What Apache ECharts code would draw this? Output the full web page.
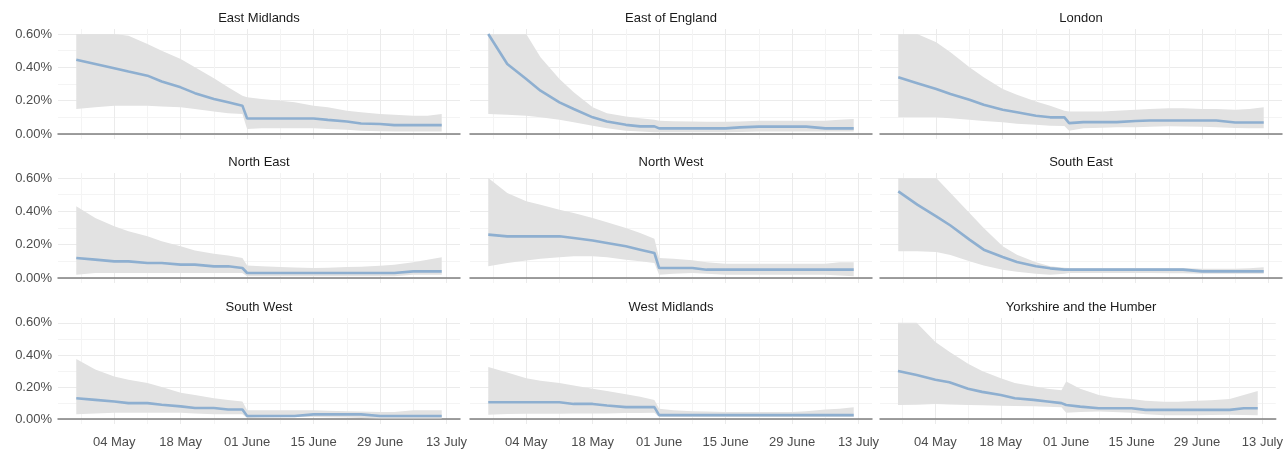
<!DOCTYPE html>
<html>
<head>
<meta charset="utf-8">
<script src="https://cdn.jsdelivr.net/npm/echarts@6/dist/echarts.min.js"></script>
<style>
  html, body { margin: 0; padding: 0; background: #ffffff; }
  #chart { width: 1286px; height: 449px; }
</style>
</head>
<body>
<div id="chart"></div>
<script>
// Sample dates shared by every region (2020)
const dates = ['2020-04-26','2020-04-30','2020-05-04','2020-05-07','2020-05-11','2020-05-14',
  '2020-05-18','2020-05-21','2020-05-25','2020-05-28','2020-05-31','2020-06-01',
  '2020-06-04','2020-06-08','2020-06-11','2020-06-15','2020-06-18','2020-06-22',
  '2020-06-25','2020-06-29','2020-07-02','2020-07-06','2020-07-09','2020-07-12'];

const regions = ['East Midlands','East of England','London','North East','North West',
  'South East','South West','West Midlands','Yorkshire and the Humber'];

// Estimated positivity (%) and credible interval bounds, one array per region
const eastMidlandsMid = [0.445,0.42,0.395,0.375,0.35,0.315,0.28,0.245,0.21,0.19,0.17,0.093,0.093,0.093,0.093,0.093,0.085,0.075,0.063,0.06,0.053,0.053,0.053,0.053];
const eastMidlandsLow = [0.15,0.16,0.17,0.17,0.17,0.165,0.16,0.15,0.135,0.125,0.12,0.03,0.035,0.035,0.035,0.034,0.03,0.025,0.02,0.016,0.015,0.015,0.015,0.015];
const eastMidlandsHigh = [0.6,0.6,0.6,0.59,0.54,0.5,0.45,0.4,0.335,0.28,0.23,0.22,0.21,0.2,0.19,0.17,0.16,0.14,0.13,0.12,0.115,0.11,0.11,0.12];

const eastEnglandMid = [0.6,0.42,0.33,0.26,0.19,0.15,0.1,0.075,0.055,0.046,0.046,0.034,0.034,0.034,0.034,0.034,0.04,0.044,0.044,0.044,0.044,0.034,0.034,0.034];
const eastEnglandLow = [0.12,0.115,0.11,0.1,0.085,0.07,0.05,0.035,0.02,0.015,0.01,0.01,0.01,0.01,0.01,0.01,0.012,0.015,0.015,0.015,0.015,0.015,0.015,0.015];
const eastEnglandHigh = [0.6,0.6,0.6,0.46,0.33,0.25,0.16,0.125,0.105,0.095,0.085,0.08,0.077,0.075,0.074,0.073,0.075,0.079,0.079,0.079,0.08,0.08,0.085,0.09];

const londonMid = [0.34,0.305,0.27,0.24,0.205,0.175,0.145,0.13,0.11,0.1,0.1,0.065,0.071,0.071,0.071,0.078,0.081,0.081,0.081,0.081,0.081,0.069,0.069,0.069];
const londonLow = [0.1,0.1,0.1,0.095,0.085,0.078,0.07,0.062,0.055,0.05,0.048,0.02,0.035,0.037,0.04,0.04,0.043,0.046,0.045,0.043,0.04,0.036,0.035,0.035];
const londonHigh = [0.6,0.6,0.55,0.49,0.4,0.34,0.27,0.235,0.195,0.17,0.14,0.135,0.135,0.135,0.14,0.145,0.15,0.155,0.155,0.15,0.15,0.145,0.15,0.16];

const northEastMid = [0.12,0.11,0.1,0.1,0.09,0.09,0.08,0.08,0.07,0.07,0.06,0.03,0.03,0.03,0.03,0.03,0.03,0.03,0.03,0.03,0.03,0.04,0.04,0.04];
const northEastLow = [0.02,0.03,0.03,0.03,0.03,0.03,0.03,0.03,0.03,0.03,0.03,0.01,0.01,0.01,0.01,0.01,0.01,0.01,0.01,0.01,0.01,0.02,0.02,0.02];
const northEastHigh = [0.43,0.36,0.31,0.28,0.25,0.22,0.19,0.165,0.145,0.135,0.12,0.075,0.07,0.066,0.063,0.06,0.062,0.066,0.068,0.074,0.08,0.094,0.11,0.125];

const northWestMid = [0.26,0.25,0.25,0.25,0.25,0.24,0.225,0.21,0.19,0.17,0.15,0.06,0.06,0.06,0.05,0.05,0.05,0.05,0.05,0.05,0.05,0.05,0.05,0.05];
const northWestLow = [0.07,0.09,0.105,0.115,0.125,0.13,0.13,0.125,0.11,0.1,0.09,0.02,0.025,0.03,0.025,0.02,0.02,0.02,0.02,0.02,0.02,0.02,0.015,0.01];
const northWestHigh = [0.6,0.51,0.46,0.44,0.41,0.39,0.36,0.335,0.3,0.27,0.235,0.12,0.115,0.106,0.095,0.086,0.086,0.086,0.086,0.086,0.086,0.086,0.094,0.094];

const southEastMid = [0.52,0.44,0.37,0.315,0.23,0.17,0.126,0.096,0.07,0.058,0.05,0.05,0.05,0.05,0.05,0.05,0.05,0.05,0.05,0.04,0.04,0.04,0.04,0.04];
const southEastLow = [0.16,0.16,0.156,0.138,0.1,0.075,0.05,0.038,0.026,0.02,0.025,0.03,0.03,0.03,0.03,0.03,0.03,0.029,0.028,0.026,0.026,0.026,0.026,0.026];
const southEastHigh = [0.6,0.6,0.6,0.51,0.39,0.3,0.19,0.14,0.095,0.07,0.062,0.06,0.06,0.06,0.06,0.06,0.06,0.06,0.06,0.055,0.055,0.055,0.058,0.065];

const southWestMid = [0.13,0.12,0.11,0.1,0.1,0.09,0.08,0.07,0.07,0.06,0.06,0.02,0.02,0.02,0.02,0.03,0.03,0.03,0.03,0.02,0.02,0.02,0.02,0.02];
const southWestLow = [0.03,0.035,0.04,0.04,0.04,0.04,0.04,0.035,0.03,0.03,0.03,0.008,0.01,0.012,0.014,0.014,0.012,0.01,0.008,0.005,0.005,0.005,0.005,0.005];
const southWestHigh = [0.375,0.31,0.265,0.245,0.225,0.2,0.165,0.15,0.13,0.12,0.11,0.055,0.055,0.055,0.055,0.055,0.052,0.05,0.048,0.045,0.045,0.055,0.055,0.055];

const westMidlandsMid = [0.105,0.105,0.105,0.105,0.105,0.095,0.095,0.085,0.075,0.075,0.075,0.025,0.025,0.025,0.025,0.025,0.025,0.025,0.025,0.025,0.025,0.025,0.025,0.025];
const westMidlandsLow = [0.028,0.032,0.034,0.034,0.034,0.035,0.035,0.036,0.038,0.039,0.04,0.014,0.014,0.014,0.014,0.014,0.014,0.014,0.014,0.014,0.014,0.014,0.014,0.014];
const westMidlandsHigh = [0.325,0.29,0.255,0.24,0.225,0.21,0.19,0.175,0.155,0.14,0.12,0.065,0.055,0.05,0.048,0.045,0.045,0.045,0.045,0.045,0.05,0.06,0.065,0.075];

const yorkshireMid = [0.3,0.275,0.245,0.23,0.19,0.17,0.15,0.13,0.12,0.11,0.1,0.088,0.078,0.068,0.068,0.068,0.058,0.058,0.058,0.058,0.058,0.058,0.068,0.068];
const yorkshireLow = [0.088,0.09,0.094,0.092,0.088,0.086,0.084,0.082,0.08,0.077,0.074,0.04,0.045,0.048,0.045,0.04,0.03,0.024,0.024,0.024,0.026,0.028,0.026,0.024];
const yorkshireHigh = [0.6,0.6,0.48,0.42,0.345,0.3,0.255,0.225,0.205,0.19,0.18,0.235,0.19,0.15,0.135,0.125,0.115,0.108,0.108,0.115,0.118,0.125,0.15,0.175];

// Axis ticks
const xMajorTicks = ['2020-05-04','2020-05-18','2020-06-01','2020-06-15','2020-06-29','2020-07-13'];
const xTickLabels = ['04 May','18 May','01 June','15 June','29 June','13 July'];
const xMinorTicks = ['2020-04-27','2020-05-11','2020-05-25','2020-06-08','2020-06-22','2020-07-06'];
const yMajorTicks = [0, 0.2, 0.4, 0.6];
const yMinorTicks = [0.1, 0.3, 0.5];

const mids = [eastMidlandsMid, eastEnglandMid, londonMid, northEastMid, northWestMid, southEastMid, southWestMid, westMidlandsMid, yorkshireMid];
const lows = [eastMidlandsLow, eastEnglandLow, londonLow, northEastLow, northWestLow, southEastLow, southWestLow, westMidlandsLow, yorkshireLow];
const highs = [eastMidlandsHigh, eastEnglandHigh, londonHigh, northEastHigh, northWestHigh, southEastHigh, southWestHigh, westMidlandsHigh, yorkshireHigh];

// ---- layout & styling ----
const FONT = '"Liberation Sans", Arial, Helvetica, sans-serif';
const panelLeft = [58, 470, 880];
const panelTop = [29, 173, 318];
const panelW = 402, panelH = 110;

// dates are placed on a numeric axis as UTC milliseconds
const ts = s => Date.parse(s + 'T00:00:00Z');
const xTimes = dates.map(ts);
const majorTs = xMajorTicks.map(ts);
const minorTs = xMinorTicks.map(ts);
const span = xTimes[xTimes.length - 1] - xTimes[0];
const xMin = xTimes[0] - span * 0.05;
const xMax = xTimes[xTimes.length - 1] + span * 0.05;
const yMin = -0.03, yMax = 0.63;

function xLabel(v) {
  let best = 0;
  for (let k = 1; k < majorTs.length; k++) {
    if (Math.abs(majorTs[k] - v) < Math.abs(majorTs[best] - v)) best = k;
  }
  return xTickLabels[best];
}

// ribbon between lower and upper bounds, drawn as one polygon per panel
function ribbonRenderer(low, high) {
  return function (params, api) {
    if (params.dataIndex !== 0) return null;
    const top = xTimes.map((t, k) => api.coord([t, high[k]]));
    const bottom = xTimes.map((t, k) => api.coord([t, low[k]])).reverse();
    return {
      type: 'polygon',
      shape: { points: top.concat(bottom) },
      style: { fill: '#e2e2e2', stroke: null },
      silent: true
    };
  };
}

const grid = [], xAxis = [], yAxis = [], series = [], graphic = [];

regions.forEach((name, i) => {
  const r = Math.floor(i / 3), c = i % 3;
  grid.push({ left: panelLeft[c], top: panelTop[r], width: panelW, height: panelH, containLabel: false });

  // major x axis: zero line, labels, major vertical grid
  xAxis.push({
    gridIndex: i, type: 'value', min: xMin, max: xMax, scale: true,
    axisLine: { show: true, onZero: true, lineStyle: { color: '#7f7f7f', width: 1.5 } },
    axisTick: { show: false, customValues: majorTs },
    axisLabel: {
      show: r === 2, customValues: majorTs, formatter: xLabel, margin: 12,
      color: '#4d4d4d', fontSize: 13, fontFamily: FONT, hideOverlap: false
    },
    splitLine: { show: true, lineStyle: { color: '#ebebeb', width: 1 } }
  });
  // minor vertical grid
  xAxis.push({
    gridIndex: i, type: 'value', min: xMin, max: xMax, scale: true, position: 'bottom',
    axisLine: { show: false }, axisTick: { show: false, customValues: minorTs },
    axisLabel: { show: false },
    splitLine: { show: true, lineStyle: { color: '#f4f4f4', width: 1 } }
  });
  // major y axis
  yAxis.push({
    gridIndex: i, type: 'value', min: yMin, max: yMax,
    axisLine: { show: false }, axisTick: { show: false, customValues: yMajorTicks },
    axisLabel: {
      show: c === 0, customValues: yMajorTicks, margin: 6,
      formatter: v => v.toFixed(2) + '%',
      color: '#4d4d4d', fontSize: 13, fontFamily: FONT
    },
    splitLine: { show: true, lineStyle: { color: '#ebebeb', width: 1 } }
  });
  // minor horizontal grid
  yAxis.push({
    gridIndex: i, type: 'value', min: yMin, max: yMax, position: 'left',
    axisLine: { show: false }, axisTick: { show: false, customValues: yMinorTicks },
    axisLabel: { show: false },
    splitLine: { show: true, lineStyle: { color: '#f4f4f4', width: 1 } }
  });

  const low = lows[i], high = highs[i], mid = mids[i];

  series.push({
    type: 'custom', name: name + ' interval', xAxisIndex: 2 * i, yAxisIndex: 2 * i,
    silent: true, z: 2, clip: true,
    renderItem: ribbonRenderer(low, high),
    encode: { x: 0, y: [1, 2] },
    data: xTimes.map((t, k) => [t, low[k], high[k]])
  });
  // central estimate
  series.push({
    type: 'line', name: name, xAxisIndex: 2 * i, yAxisIndex: 2 * i,
    symbol: 'none', silent: true, z: 5,
    lineStyle: { color: '#8eafd0', width: 2.6 },
    data: xTimes.map((t, k) => [t, mid[k]])
  });

  // strip title
  graphic.push({
    type: 'text', x: panelLeft[c] + panelW / 2, y: panelTop[r] - 11,
    style: { text: name, align: 'center', verticalAlign: 'middle',
      fontSize: 13, fontFamily: FONT, fill: '#1a1a1a' }
  });
});

const chart = echarts.init(document.getElementById('chart'), null, { renderer: 'canvas' });
chart.setOption({
  animation: false,
  backgroundColor: '#ffffff',
  grid, xAxis, yAxis, series, graphic
});
</script>
</body>
</html>
